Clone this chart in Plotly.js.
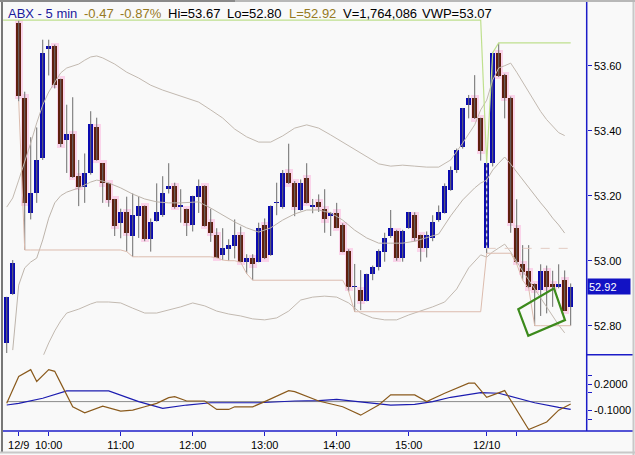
<!DOCTYPE html>
<html><head><meta charset="utf-8">
<script src="https://cdn.plot.ly/plotly-3.0.1.min.js"></script>
<style>html,body{margin:0;padding:0;background:#f9f9f9;overflow:hidden}</style>
</head><body><div id="chart" style="width:635px;height:455px"></div>
<script>
// ---- candle data (5-min bars, index 0..94) ----
const openP  = [52.748,52.898,53.730,53.502,53.148,53.207,53.317,53.650,53.660,53.558,
                53.370,53.390,53.260,53.228,53.269,53.410,53.300,53.238,53.189,53.117,
                53.150,53.076,53.137,53.168,53.068,53.123,53.140,53.220,53.230,53.166,
                53.158,53.109,53.197,53.230,53.119,53.079,53.018,53.036,53.046,53.079,
                52.997,53.008,52.997,53.110,53.018,53.178,53.166,53.271,53.240,53.156,
                53.253,53.166,53.180,53.159,53.137,53.148,53.110,53.030,52.918,52.910,
                52.877,52.959,52.982,53.028,53.076,53.090,53.007,53.100,53.140,53.079,
                53.038,53.069,53.125,53.148,53.218,53.279,53.349,53.479,53.500,53.438,
                53.038,53.300,53.638,53.570,53.500,53.100,52.990,52.968,52.927,52.910,
                52.968,52.927,52.918,52.940,52.858];
const highP  = [52.889,53.002,53.740,53.520,53.380,53.410,53.680,53.680,53.665,53.560,
                53.480,53.503,53.310,53.330,53.460,53.440,53.300,53.240,53.190,53.160,
                53.197,53.207,53.197,53.170,53.130,53.238,53.260,53.300,53.240,53.220,
                53.160,53.200,53.250,53.232,53.160,53.100,53.100,53.066,53.127,53.105,
                53.020,53.020,53.117,53.130,53.170,53.240,53.279,53.360,53.245,53.250,
                53.300,53.190,53.204,53.220,53.150,53.178,53.115,53.035,52.990,52.971,
                52.960,52.985,53.035,53.086,53.156,53.095,53.095,53.150,53.149,53.080,
                53.090,53.140,53.170,53.238,53.290,53.345,53.470,53.510,53.571,53.440,
                53.300,53.640,53.670,53.575,53.505,53.189,53.048,53.048,52.930,52.989,
                52.985,52.969,52.989,52.970,52.930];
const lowP   = [52.716,52.895,53.490,53.033,53.127,53.178,53.310,53.570,53.530,53.350,
                53.270,53.255,53.168,53.178,53.265,53.308,53.178,53.166,53.076,53.069,
                53.028,53.012,53.070,53.060,53.028,53.120,53.135,53.207,53.160,53.117,
                53.076,53.090,53.147,53.105,53.058,53.009,53.002,53.000,53.007,52.995,
                52.960,52.940,52.995,53.005,53.015,53.140,53.160,53.236,53.137,53.154,
                53.176,53.146,53.150,53.086,53.076,53.100,53.026,52.905,52.843,52.848,
                52.875,52.940,52.970,52.997,53.070,53.000,52.997,53.098,53.060,52.997,
                53.010,53.060,53.120,53.145,53.215,53.270,53.345,53.438,53.436,53.308,
                53.023,53.290,53.565,53.438,53.086,52.990,52.940,52.915,52.800,52.830,
                52.838,52.858,52.915,52.846,52.800];
const closeP = [52.889,52.992,53.507,53.178,53.207,53.310,53.640,53.660,53.540,53.358,
                53.390,53.258,53.228,53.269,53.420,53.310,53.238,53.187,53.107,53.151,
                53.086,53.140,53.168,53.068,53.119,53.150,53.207,53.230,53.166,53.170,
                53.117,53.199,53.230,53.107,53.086,53.009,53.040,53.048,53.079,52.997,
                53.008,52.989,53.100,53.007,53.168,53.180,53.271,53.238,53.166,53.240,
                53.178,53.170,53.166,53.127,53.146,53.100,53.028,52.918,52.920,52.877,
                52.959,52.982,53.030,53.069,53.100,53.007,53.090,53.149,53.069,53.038,
                53.079,53.120,53.151,53.230,53.279,53.340,53.469,53.500,53.438,53.338,
                53.300,53.638,53.568,53.500,53.117,52.997,52.966,52.918,52.910,52.968,
                52.918,52.918,52.928,52.846,52.920];
const daySessions = [[0, 79], [80, 94]];   // 12/9 (with carry-in), 12/10

// ---- x axis ticks ----
const tickIdx   = [2, 7, 19, 31, 43, 55, 67, 80, 85];
const tickLabel = ['12/9', '10:00', '11:00', '12:00', '13:00', '14:00', '15:00', '12/10', ''];

// ---- bands ----
const upperX = [0,1,2,3,4,5,6,7,8,9,10,11,12,13,14,15,16,18,20,22,24,26,28,30,32,34,36,38,40,42,44,46,48,50,52,54,56,58,60,62,64,66,68,70,72,74,76,78,79,80,81,82,83,84,85,86,87,88,89,90,91,92,93];
const upperY = [53.165,53.193,53.248,53.304,53.362,53.424,53.479,53.519,53.547,53.578,53.593,53.599,53.605,53.617,53.627,53.630,53.624,53.605,53.580,53.562,53.540,53.525,53.513,53.500,53.488,53.464,53.439,53.405,53.381,53.365,53.365,53.384,53.408,53.418,53.408,53.387,53.365,53.341,53.319,53.298,53.291,53.294,53.291,53.288,53.288,53.310,53.362,53.418,53.464,53.494,53.556,53.593,53.600,53.608,53.580,53.550,53.520,53.490,53.459,53.434,53.413,53.394,53.385];
const midX = [1,2,3,4,5,6,7,8,9,10,12,14,15,16,17,19,21,23,25,27,29,31,32,34,36,38,40,42,44,46,48,50,52,54,56,58,60,62,64,66,68,70,72,74,76,78,79,80,81,82,83,84,85,86,87,88,89,90,91,92,93];
const midY = [52.725,52.925,52.978,52.996,53.008,53.064,53.131,53.178,53.200,53.211,53.224,53.242,53.248,53.245,53.239,53.224,53.205,53.190,53.181,53.178,53.178,53.181,53.181,53.162,53.141,53.119,53.101,53.088,53.101,53.125,53.144,53.156,53.156,53.147,53.125,53.094,53.070,53.054,53.054,53.054,53.060,53.070,53.082,53.138,53.187,53.224,53.239,53.248,53.279,53.300,53.319,53.297,53.273,53.248,53.227,53.202,53.178,53.156,53.131,53.110,53.085];
const lowerX = [6,7,8,9,10,12,14,15,17,19,21,23,25,27,29,31,33,35,37,39,41,43,45,47,49,51,53,55,57,59,61,63,65,67,69,71,73,75,77,79,80,81,82,83,84,85,86,87,88,89,90,91,92,93];
const lowerY = [52.704,52.747,52.784,52.815,52.839,52.851,52.867,52.873,52.873,52.870,52.854,52.839,52.839,52.848,52.858,52.870,52.861,52.845,52.836,52.830,52.821,52.818,52.824,52.845,52.879,52.888,52.891,52.888,52.870,52.839,52.824,52.818,52.818,52.833,52.845,52.858,52.873,52.913,52.978,53.018,53.011,53.027,53.039,53.051,53.027,52.996,52.968,52.941,52.913,52.885,52.858,52.830,52.802,52.778];

// ---- lower oscillator panel ----
const oscX = [0,1,2,4,5,7,8,9,11,13,16,19,21,23,25,27,28,30,33,35,37,38,41,43,45,47,48,51,52,56,59,62,64,68,70,73,77,78,80,83,84,87,90,92,94];
const oscY = [-0.02,0.133,0.286,0.363,0.229,0.363,0.344,0.21,-0.059,-0.128,-0.051,-0.108,-0.097,-0.059,-0.02,0.045,0.057,0.007,0.007,-0.089,-0.089,-0.059,-0.059,0,0.064,0.125,0.114,0.038,0.007,-0.059,-0.154,-0.039,0.076,0.076,0,0.095,0.21,0.21,0.049,0.125,0.018,-0.318,-0.231,-0.097,-0.028];
const sigX = [0,2,6,10,17,22,26,30,34,42,48,52,55,59,64,68,71,74,79,82,84,88,92,94];
const sigY = [-0.039,-0.02,0.038,0.122,0.122,0,-0.077,-0.039,-0.013,-0.013,0.007,0.01,0.026,0,-0.039,-0.031,0,0.049,0.102,0.095,0.057,-0.013,-0.066,-0.089];
const zeroLevel = 0;

// ---- drawing ----
const N = closeP.length;
const idx = [...Array(N).keys()];
const UP = '#0a0ab0', DOWN = '#5f1f0e';

const wickX = [], wickY = [];
idx.forEach(i => { wickX.push(i, i, null); wickY.push(lowP[i], highP[i], null); });
const bodyBase = idx.map(i => Math.min(openP[i], closeP[i]));
const bodyH = idx.map(i => Math.max(Math.abs(closeP[i] - openP[i]), 0.0035));
const bodyCol = idx.map(i => closeP[i] >= openP[i] ? UP : DOWN);
const downIdx = idx.filter(i => closeP[i] < openP[i]);

// running high / low per session
const hiX = [], hiY = [], loX = [], loY = [];
daySessions.forEach(([a, b]) => {
  const start = a === 0 ? 2 : a;
  let mx = -Infinity, mn = Infinity;
  for (let i = start; i <= b; i++) {
    mx = Math.max(mx, highP[i]); mn = Math.min(mn, lowP[i]);
    if (i === start && a < start) { for (let k = a; k < start; k++) { hiX.push(k - 0.6); hiY.push(highP[start]); } }
    hiX.push(i); hiY.push(mx);
    loX.push(i); loY.push(mn);
  }
});
const sess2 = daySessions[1];

const traces = [
  {x: downIdx, base: downIdx.map(i => bodyBase[i] - 0.01), y: downIdx.map(i => bodyH[i] + 0.02),
   type: 'bar', width: 1.3, marker: {color: '#fad4ea', line: {width: 0}}, hoverinfo: 'skip'},
  {x: wickX, y: wickY, type: 'scatter', mode: 'lines', line: {color: '#6c6c6c', width: 1}, hoverinfo: 'skip'},
  {x: idx, base: bodyBase, y: bodyH, type: 'bar', width: 0.85, marker: {color: bodyCol, line: {width: 0}}},
  {x: [sess2[0], sess2[0]], y: [openP[sess2[0]], closeP[sess2[0]]], type: 'scatter', mode: 'lines',
   line: {color: '#ffffff', width: 1, dash: 'dot'}},
  {x: upperX, y: upperY, type: 'scatter', mode: 'lines', line: {color: '#c2b9b0', width: 1}},
  {x: midX, y: midY, type: 'scatter', mode: 'lines', line: {color: '#bdb4ab', width: 1}},
  {x: lowerX, y: lowerY, type: 'scatter', mode: 'lines', line: {color: '#c2b9b0', width: 1}},
  {x: hiX, y: hiY, type: 'scatter', mode: 'lines', line: {color: '#bfe08e', width: 1.2}, cliponaxis: false},
  {x: loX, y: loY, type: 'scatter', mode: 'lines', line: {color: '#dcbcae', width: 1}},
  {x: [sess2[0], sess2[1]], y: [openP[sess2[0]], openP[sess2[0]]], type: 'scatter', mode: 'lines',
   line: {color: '#e2cbc2', width: 1, dash: 'dash'}},
  {x: [0, N - 1], y: [zeroLevel, zeroLevel], type: 'scatter', mode: 'lines', yaxis: 'y2', line: {color: '#8c8c8c', width: 1}},
  {x: sigX, y: sigY, type: 'scatter', mode: 'lines', yaxis: 'y2', line: {color: '#1c1cb0', width: 1.2}},
  {x: oscX, y: oscY, type: 'scatter', mode: 'lines', yaxis: 'y2', line: {color: '#8a5a1c', width: 1.2}}
];

const W = 635, H = 455;
const px = v => v / W, py = v => 1 - v / H;
const FONT = 'Liberation Sans, Arial, sans-serif';
const AX = '#1c1cc8';
const lastClose = closeP[N - 1];

const txt = (x, s, color) => ({xref: 'paper', yref: 'paper', x: px(x), y: py(13.5), xanchor: 'left', yanchor: 'middle',
  text: s, showarrow: false, font: {family: FONT, size: 13, color: color}});

const layout = {
  width: W, height: H, margin: {l: 0, r: 0, t: 0, b: 0},
  paper_bgcolor: '#f9f9f9', plot_bgcolor: '#f9f9f9',
  showlegend: false, barmode: 'overlay', bargap: 0, hovermode: false,
  xaxis: {domain: [px(3), px(586.7)], range: [-0.62, 96.67], anchor: 'y2',
    tickmode: 'array', tickvals: tickIdx, ticktext: tickLabel, ticks: 'outside', ticklen: 4, tickcolor: AX, tickwidth: 1,
    showgrid: false, zeroline: false, showline: false, tickfont: {family: FONT, size: 11, color: '#000'}},
  yaxis: {domain: [1 - 354.7 / H, 1 - 18 / H], range: [52.7108, 53.7468], side: 'right', anchor: 'x',
    tickmode: 'array', tickvals: [52.8, 53.0, 53.2, 53.4, 53.6], ticktext: ['52.80', '53.00', '53.20', '53.40', '53.60'],
    ticks: 'outside', ticklen: 4, tickcolor: AX, showgrid: false, zeroline: false, showline: false,
    tickfont: {family: FONT, size: 11, color: '#000'}},
  yaxis2: {domain: [1 - 430.7 / H, 1 - 354.7 / H], range: [-0.3307, 0.533], side: 'right', anchor: 'x',
    tickmode: 'array', tickvals: [0.3, 0.2, 0.1, -0.1, -0.2], ticktext: ['', '0.2000', '', '-0.1000', ''],
    ticks: 'outside', ticklen: 4, tickcolor: AX, showgrid: false, zeroline: false, showline: false,
    tickfont: {family: FONT, size: 11, color: '#000'}},
  shapes: [
    {type: 'line', xref: 'paper', yref: 'paper', x0: px(586.7), x1: px(586.7), y0: py(0), y1: py(431), line: {color: AX, width: 1.5}},
    {type: 'line', xref: 'paper', yref: 'paper', x0: px(3), x1: px(633), y0: py(431), y1: py(431), line: {color: AX, width: 1.5}},
    {type: 'line', xref: 'paper', yref: 'paper', x0: px(586.7), x1: px(633), y0: py(354.7), y1: py(354.7), line: {color: AX, width: 1.5}},
    {type: 'line', xref: 'paper', yref: 'paper', x0: px(2), x1: px(2), y0: py(2), y1: py(452), line: {color: '#777777', width: 2}},
    {type: 'line', xref: 'paper', yref: 'paper', x0: px(0), x1: px(635), y0: py(452.5), y1: py(452.5), line: {color: '#c8c8c8', width: 2}},
    {type: 'line', xref: 'paper', yref: 'paper', x0: px(633.5), x1: px(633.5), y0: py(0), y1: py(455), line: {color: '#c8c8c8', width: 2}},
    {type: 'line', xref: 'paper', yref: 'paper', x0: px(0), x1: px(635), y0: py(1), y1: py(1), line: {color: '#b8b8b8', width: 2}},
    {type: 'line', xref: 'paper', yref: 'paper', x0: px(0), x1: px(235), y0: py(1), y1: py(1), line: {color: '#8a8a8a', width: 2}},
    {type: 'path', xref: 'x', yref: 'y',
     path: 'M 85.27,52.8505 L 91.22,52.9151 L 93.05,52.8175 L 86.93,52.7692 Z',
     line: {color: '#3c8a1c', width: 2.2}, fillcolor: 'rgba(0,0,0,0)'}
  ],
  annotations: [
    txt(6, 'ABX - 5 min', '#1a1a9c'),
    txt(81.5, '-0.47', '#967a22'),
    txt(117.5, '-0.87%', '#967a22'),
    txt(166, 'Hi=53.67', '#000000'),
    txt(225, 'Lo=52.80', '#000000'),
    txt(286.5, 'L=52.92', '#967a22'),
    txt(340.5, 'V=1,764,086', '#000000'),
    txt(420, 'VWP=53.07', '#000000'),
    {xref: 'paper', yref: 'y', x: px(586.7), y: lastClose, xanchor: 'left', yanchor: 'middle',
     text: lastClose.toFixed(2), showarrow: false, bgcolor: '#1212c4', width: 40, height: 13, align: 'left',
     borderpad: 1, font: {family: FONT, size: 11, color: '#ffffff'}}
  ]
};

Plotly.newPlot('chart', traces, layout, {displayModeBar: false, staticPlot: true});
</script>
</body></html>
